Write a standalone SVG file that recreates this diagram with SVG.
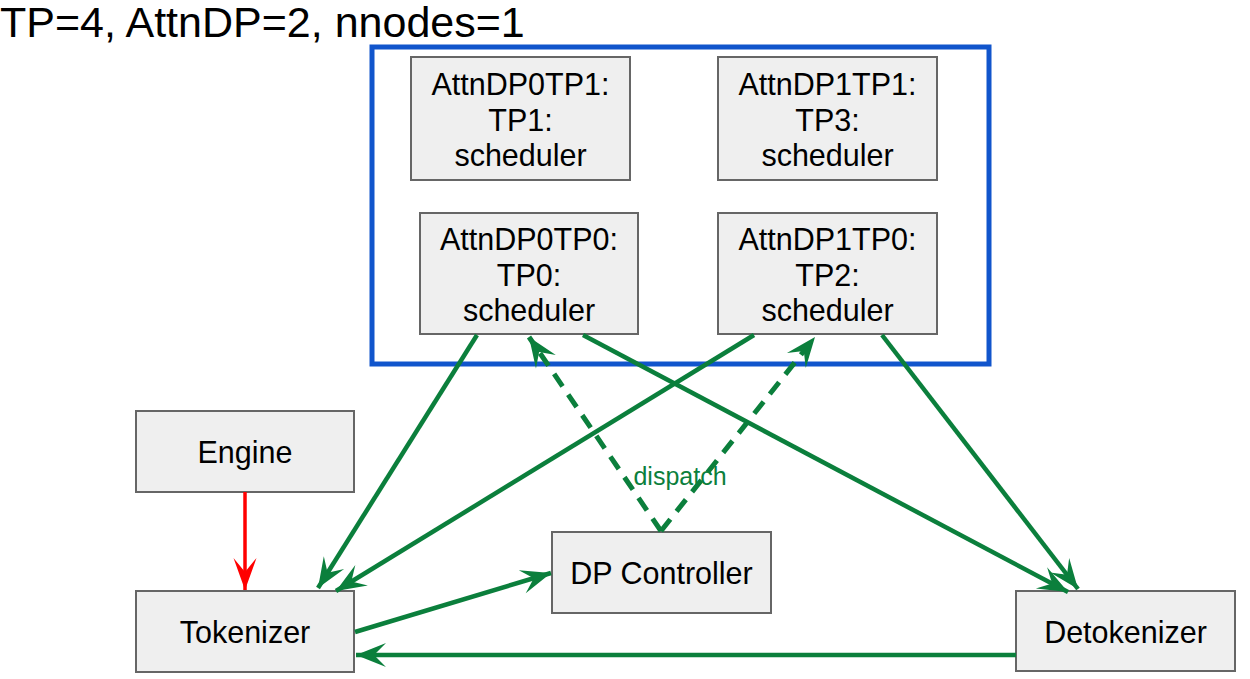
<svg xmlns="http://www.w3.org/2000/svg" width="1250" height="679" viewBox="0 0 1250 679">
<style>
.box{fill:#efefef;stroke:#666;stroke-width:2}
.t{font-family:"Liberation Sans",Arial,sans-serif;font-size:30.5px;fill:#000;text-anchor:middle}
.g{fill:none;stroke:#0b7f3c;stroke-width:4.5}
.d{fill:none;stroke:#0b7f3c;stroke-width:5;stroke-dasharray:15 10}
</style>
<defs>
<marker id="ag" markerUnits="userSpaceOnUse" viewBox="-32 -13 34 26" refX="0" refY="0" markerWidth="34" markerHeight="26" orient="auto">
<path d="M0,0 L-30,-12 L-18,0 L-30,12 Z" fill="#0b7f3c"/>
</marker>
<marker id="ar" markerUnits="userSpaceOnUse" viewBox="-32 -13 34 26" refX="0" refY="0" markerWidth="34" markerHeight="26" orient="auto">
<path d="M0,0 L-32,-11.5 L-18,0 L-32,11.5 Z" fill="#ff0000"/>
</marker>
</defs>
<text x="0" y="37" style="font-family:'Liberation Sans',Arial,sans-serif;font-size:43px;fill:#000">TP=4, AttnDP=2, nnodes=1</text>
<rect id="container" x="372" y="47" width="617" height="317" fill="none" stroke="#1155cc" stroke-width="5"/>
<g id="attndp0tp1"><rect class="box" x="411" y="57" width="219" height="123"/><text class="t" x="520.5" y="95">AttnDP0TP1:</text><text class="t" x="520.5" y="130.5">TP1:</text><text class="t" x="520.5" y="166">scheduler</text></g>
<g id="attndp1tp1"><rect class="box" x="718" y="57" width="219" height="123"/><text class="t" x="827.5" y="95">AttnDP1TP1:</text><text class="t" x="827.5" y="130.5">TP3:</text><text class="t" x="827.5" y="166">scheduler</text></g>
<g id="attndp0tp0"><rect class="box" x="420" y="213" width="218" height="121"/><text class="t" x="529" y="250">AttnDP0TP0:</text><text class="t" x="529" y="285.5">TP0:</text><text class="t" x="529" y="321">scheduler</text></g>
<g id="attndp1tp0"><rect class="box" x="718" y="213" width="219" height="121"/><text class="t" x="827.5" y="250">AttnDP1TP0:</text><text class="t" x="827.5" y="285.5">TP2:</text><text class="t" x="827.5" y="321">scheduler</text></g>
<g id="engine"><rect class="box" x="136" y="411" width="218" height="81"/><text class="t" x="245" y="463">Engine</text></g>
<g id="tokenizer"><rect class="box" x="136" y="591" width="218" height="81"/><text class="t" x="245" y="643">Tokenizer</text></g>
<g id="dpcontroller"><rect class="box" x="552" y="532" width="219" height="81"/><text class="t" x="661.5" y="584">DP Controller</text></g>
<g id="detokenizer"><rect class="box" x="1016" y="591" width="219" height="80"/><text class="t" x="1125.5" y="643">Detokenizer</text></g>
<g id="connectors">
<line class="g" x1="477" y1="335" x2="318" y2="588" marker-end="url(#ag)"/>
<line class="g" x1="754" y1="335" x2="336" y2="591" marker-end="url(#ag)"/>
<line class="g" x1="583" y1="335" x2="1068" y2="592" marker-end="url(#ag)"/>
<line class="g" x1="882" y1="335" x2="1078" y2="589" marker-end="url(#ag)"/>
<line class="g" x1="355" y1="632" x2="551" y2="573" marker-end="url(#ag)"/>
<line class="g" x1="1016" y1="655" x2="356" y2="655" marker-end="url(#ag)"/>
<line x1="245" y1="492" x2="245" y2="590" stroke="#ff0000" stroke-width="3.5" marker-end="url(#ar)"/>
<line class="d" x1="661" y1="531" x2="529" y2="337" marker-end="url(#ag)"/>
<line class="d" x1="661" y1="531" x2="815" y2="337" marker-end="url(#ag)"/>
<text x="680" y="485" style="font-family:'Liberation Sans',Arial,sans-serif;font-size:25px;fill:#0b7f3c;text-anchor:middle">dispatch</text>
</g>
</svg>
